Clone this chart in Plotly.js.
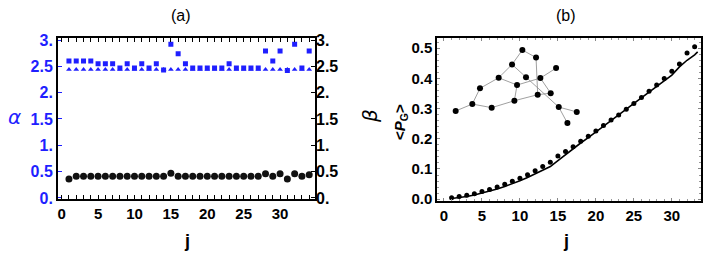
<!DOCTYPE html>
<html><head><meta charset="utf-8">
<script src="https://cdn.plot.ly/plotly-3.0.1.min.js"></script>
<style>body{margin:0;padding:0;background:#fff}#chart{width:706px;height:260px}</style>
</head><body><div id="chart"></div>
<script>
// ---- Data ----
const jA = [1,2,3,4,5,6,7,8,9,10,11,12,13,14,15,16,17,18,19,20,21,22,23,24,25,26,27,28,29,30,31,32,33,34];
const alphaSquares = [2.6,2.6,2.6,2.6,2.55,2.55,2.55,2.47,2.55,2.47,2.55,2.47,2.55,2.43,2.92,2.74,2.55,2.47,2.47,2.47,2.47,2.47,2.55,2.47,2.47,2.47,2.47,2.79,2.6,2.79,2.42,2.92,2.47,2.79];
const alphaTriangles = [2.44,2.44,2.44,2.44,2.44,2.44,2.44,2.44,2.44,2.44,2.44,2.44,2.44,2.44,2.44,2.44,2.44,2.44,2.44,2.44,2.44,2.44,2.44,2.44,2.44,2.44,2.44,2.44,2.44,2.44,2.44,2.44,2.44,2.44];
const betaCircles = [0.36,0.41,0.41,0.41,0.41,0.41,0.41,0.41,0.41,0.41,0.41,0.41,0.41,0.41,0.47,0.41,0.41,0.41,0.41,0.41,0.41,0.41,0.41,0.41,0.41,0.41,0.41,0.46,0.41,0.46,0.36,0.46,0.41,0.44];

const jB = [1,2,3,4,5,6,7,8,9,10,11,12,13,14,15,16,17,18,19,20,21,22,23,24,25,26,27,28,29,30,31,32,33];
const pgDots = [0.005,0.009,0.013,0.018,0.025,0.032,0.040,0.049,0.059,0.069,0.081,0.094,0.108,0.122,0.143,0.158,0.174,0.192,0.208,0.226,0.244,0.262,0.279,0.298,0.317,0.337,0.357,0.378,0.400,0.424,0.448,0.484,0.505];
const jLine = [1,2,3,4,5,6,7,8,9,10,11,12,13,14,15,16,17,18,19,20,21,22,23,24,25,26,27,28,29,30,31,32,33,33.4];
const pgLine = [0.002,0.005,0.009,0.014,0.020,0.027,0.034,0.042,0.051,0.061,0.072,0.084,0.096,0.108,0.128,0.148,0.167,0.186,0.204,0.222,0.241,0.260,0.279,0.298,0.317,0.336,0.355,0.373,0.391,0.411,0.438,0.460,0.478,0.488];

// inset graph (in panel-b data coordinates)
const nodeX = [1.54,3.73,6.28,9.27,4.74,7.2,8.96,10.32,12.12,10.8,9.62,12.69,14.76,12.34,14.05,15.11,17.48,16.25];
const nodeY = [0.292,0.315,0.303,0.326,0.367,0.402,0.446,0.494,0.469,0.404,0.378,0.401,0.434,0.346,0.351,0.305,0.289,0.252];
const edges = [[0,1],[1,2],[2,3],[1,4],[4,5],[5,6],[6,7],[7,8],[5,10],[6,9],[9,15],[10,3],[10,11],[11,12],[8,13],[3,13],[13,14],[15,16],[15,17],[11,14]];

const tickValsA = [0,0.5,1,1.5,2,2.5,3];
const tickTextA = ["0.","0.5","1.","1.5","2.","2.5","3."];
const tickValsX = [0,5,10,15,20,25,30];
const tickTextX = ["0","5","10","15","20","25","30"];
const tickValsB = [0,0.1,0.2,0.3,0.4,0.5];
const tickTextB = ["0.0","0.1","0.2","0.3","0.4","0.5"];

// ---- Build ----
const blue = '#1f1fff';
const bold = arr => arr.map(s => '<b>' + s + '</b>');
const ex = [], ey = [];
edges.forEach(e => { ex.push(nodeX[e[0]], nodeX[e[1]], null); ey.push(nodeY[e[0]], nodeY[e[1]], null); });

const traces = [
  {x: jA, y: alphaTriangles, xaxis:'x', yaxis:'y', mode:'markers', type:'scatter',
   marker:{symbol:'triangle-up', size:5, color:blue}},
  {x: jA, y: alphaSquares, xaxis:'x', yaxis:'y', mode:'markers', type:'scatter',
   marker:{symbol:'square', size:5, color:blue}},
  {x: jA, y: betaCircles, xaxis:'x', yaxis:'y2', mode:'markers', type:'scatter',
   marker:{symbol:'circle', size:7, color:'#111'}},
  {x: ex, y: ey, xaxis:'x2', yaxis:'y3', mode:'lines', type:'scatter',
   line:{color:'#888', width:0.8}},
  {x: nodeX, y: nodeY, xaxis:'x2', yaxis:'y3', mode:'markers', type:'scatter',
   marker:{size:6, color:'#000'}},
  {x: jLine, y: pgLine, xaxis:'x2', yaxis:'y3', mode:'lines', type:'scatter',
   line:{color:'#000', width:1.6}},
  {x: jB, y: pgDots, xaxis:'x2', yaxis:'y3', mode:'markers', type:'scatter',
   marker:{size:5, color:'#000'}}
];

const FAM = 'Liberation Sans, Arial, sans-serif';
const fontTick = {family:FAM, size:15, color:'#000'};
const frame = {showline:true, linecolor:'#000', linewidth:2, mirror:true, zeroline:false, showgrid:false};

function ann(text, x, y, font, extra){
  return Object.assign({text:text, xref:'paper', yref:'paper', x:x/706, y:1-y/260,
    xanchor:'center', yanchor:'middle', showarrow:false, font:font}, extra||{});
}

const layout = {
  width:706, height:260, margin:{l:0,r:0,t:0,b:0}, showlegend:false,
  paper_bgcolor:'#fff', plot_bgcolor:'#fff',
  font:{family:FAM},
  xaxis: Object.assign({}, frame, {domain:[0.0822,0.4462], range:[-0.5,34.8], anchor:'y',
    tickvals:tickValsX, ticktext:bold(tickTextX), ticks:'inside', ticklen:4, tickcolor:'#000', mirror:'allticks',
    minor:{dtick:1, ticks:'inside', ticklen:2, tickcolor:'#000'},
    tickfont:fontTick}),
  yaxis: Object.assign({}, frame, {domain:[0.2327,0.852], range:[-0.03,3.03], anchor:'x',
    tickvals:tickValsA, ticktext:bold(tickTextA), ticks:'inside', ticklen:4, tickcolor:blue,
    tickfont:Object.assign({}, fontTick, {color:blue, size:16})}),
  yaxis2: {overlaying:'y', side:'right', anchor:'x', range:[-0.03,3.03], showgrid:false, zeroline:false,
    tickvals:tickValsA, ticktext:bold(tickTextA), ticks:'inside', ticklen:4, tickcolor:'#000',
    tickfont:Object.assign({}, fontTick, {size:16})},
  xaxis2: Object.assign({}, frame, {domain:[0.6194,0.9925], range:[-0.88,33.8], anchor:'y3',
    tickvals:tickValsX, ticktext:bold(tickTextX), ticks:'inside', ticklen:3, tickcolor:'#888', mirror:'allticks',
    minor:{dtick:1, ticks:'inside', ticklen:2, tickcolor:'#999'},
    tickfont:fontTick}),
  yaxis3: Object.assign({}, frame, {domain:[0.2270,0.853], range:[-0.006,0.533], anchor:'x2',
    tickvals:tickValsB, ticktext:bold(tickTextB), ticks:'inside', ticklen:3, tickcolor:'#888', mirror:'allticks',
    minor:{dtick:0.02, ticks:'inside', ticklen:2, tickcolor:'#999'},
    tickfont:fontTick}),
  annotations: [
    ann('(a)', 181, 15, {size:16, color:'#000', family:FAM}),
    ann('(b)', 566, 15, {size:16, color:'#000', family:FAM}),
    ann('<b>j</b>', 187, 241, {size:18, color:'#000', family:FAM}),
    ann('<b>j</b>', 566, 241, {size:18, color:'#000', family:FAM}),
    ann('<i>α</i>', 14, 117, {size:20, color:blue, family:'DejaVu Sans, sans-serif'}),
    ann('<i>β</i>', 370, 116, {size:20, color:'#000', family:'DejaVu Sans, sans-serif'}, {textangle:-90}),
    ann('<b>&lt;<i>P</i><sub>G</sub>&gt;</b>', 400, 122, {size:15, color:'#000', family:FAM}, {textangle:-90})
  ]
};
Plotly.newPlot('chart', traces, layout, {staticPlot:true, displayModeBar:false});
</script></body></html>
